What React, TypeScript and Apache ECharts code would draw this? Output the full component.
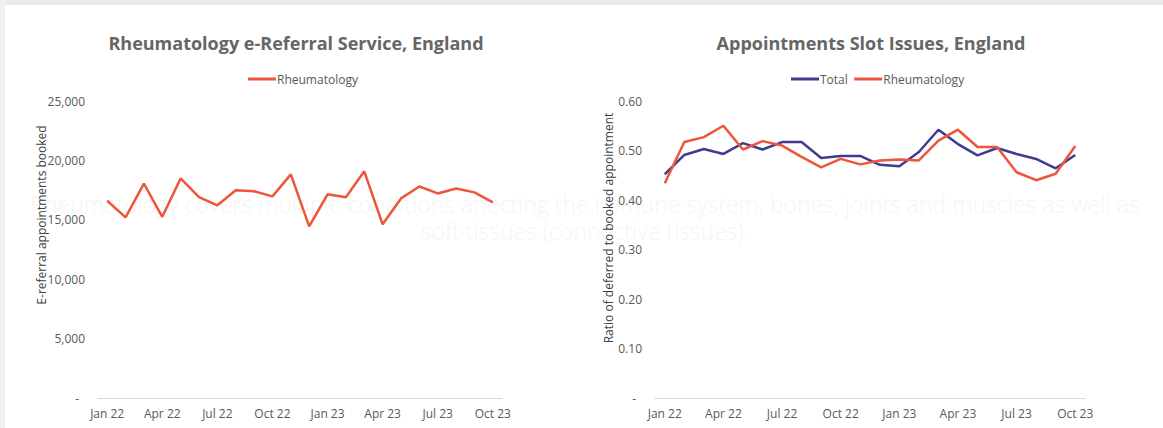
import React, { useEffect, useRef } from "react";
import * as echarts from "echarts";

const months = [
  "Jan 22", "Feb 22", "Mar 22", "Apr 22", "May 22", "Jun 22", "Jul 22", "Aug 22", "Sep 22", "Oct 22", "Nov 22", "Dec 22",
  "Jan 23", "Feb 23", "Mar 23", "Apr 23", "May 23", "Jun 23", "Jul 23", "Aug 23", "Sep 23", "Oct 23",
];

const referrals = [
  16600, 15200, 18050, 15250, 18480, 16900, 16220, 17480, 17400, 16970, 18820,
  14450, 17150, 16900, 19080, 14620, 16800, 17800, 17220, 17640, 17310, 16470,
];

const ratioTotal = [
  0.452, 0.491, 0.503, 0.493, 0.515, 0.502, 0.517, 0.517, 0.485, 0.489, 0.489,
  0.471, 0.468, 0.497, 0.542, 0.513, 0.49, 0.505, 0.493, 0.483, 0.464, 0.491,
];

const ratioRheum = [
  0.434, 0.517, 0.527, 0.55, 0.502, 0.519, 0.51, 0.487, 0.466, 0.483, 0.472,
  0.48, 0.482, 0.48, 0.52, 0.542, 0.507, 0.507, 0.456, 0.44, 0.453, 0.509,
];

const titleLeft = "Rheumatology e-Referral Service, England";
const titleRight = "Appointments Slot Issues, England";
const yNameLeft = "E-referral appointments booked";
const yNameRight = "Ratio of deferred to booked appointment";
const overlayLines = [
  "Rheumatology covers multiple conditions affecting the immune system, bones, joints and muscles as well as",
  "soft tissues (connective tissues).",
];

const ORANGE = "#EE553A";
const BLUE = "#3F3B8E";
const LABEL = "#595959";
const FONT = "'Open Sans', sans-serif";
const STRETCH = "semi-condensed";

export default function App() {
  const ref = useRef<HTMLDivElement>(null);

  useEffect(() => {
    if (!ref.current) return;
    const chart = echarts.init(ref.current, undefined, { renderer: "svg" });

    const lbl = { color: LABEL, fontFamily: FONT, fontSize: 12, fontStyle: STRETCH };
    const rich = { a: { ...lbl }, z: { ...lbl, padding: [0, 6, 0, 0] } };

    const xAxisBase = (gridIndex: number) => ({
      type: "category" as const,
      gridIndex,
      data: months,
      boundaryGap: true,
      axisLine: { lineStyle: { color: "#d9d9d9", width: 1 } },
      axisTick: { interval: 2, length: 5, lineStyle: { color: "#d9d9d9" } },
      axisLabel: { ...lbl, interval: 2, margin: 9, formatter: (v: string) => "{a|" + v + "}", rich },
      splitLine: { show: false },
    });

    chart.setOption({
      animation: false,
      backgroundColor: "#ffffff",
      graphic: [
        { type: "rect", z: 0, shape: { x: 0, y: 0, width: 1163, height: 5 }, style: { fill: "#ebebeb" } },
        { type: "rect", z: 0, shape: { x: 0, y: 0, width: 5, height: 428 }, style: { fill: "#f0f0f0" } },
        {
          type: "text", z: 0, x: 585, y: 204,
          style: { text: overlayLines[0], font: "300 23px 'Open Sans', sans-serif", fill: "#f5f5f5", align: "center", verticalAlign: "middle" },
        },
        {
          type: "text", z: 0, x: 585, y: 231,
          style: { text: overlayLines[1], font: "300 23px 'Open Sans', sans-serif", fill: "#f5f5f5", align: "center", verticalAlign: "middle" },
        },
        {
          type: "text", z: 10, x: 296, y: 43,
          style: { text: titleLeft, font: "bold 18px 'Open Sans', sans-serif", fill: "#666666", align: "center", verticalAlign: "middle" },
        },
        {
          type: "text", z: 10, x: 871, y: 43,
          style: { text: titleRight, font: "bold 18px 'Open Sans', sans-serif", fill: "#666666", align: "center", verticalAlign: "middle" },
        },
        {
          type: "text", z: 10, x: 41, y: 215, rotation: Math.PI / 2,
          style: { text: yNameLeft, font: "12px 'Open Sans', sans-serif", fill: "#404040", align: "center", verticalAlign: "middle" },
        },
        {
          type: "text", z: 10, x: 608, y: 228, rotation: Math.PI / 2,
          style: { text: yNameRight, font: "12px 'Open Sans', sans-serif", fill: "#404040", align: "center", verticalAlign: "middle" },
        },
      ],
      legend: [
        {
          left: 243, top: 68,
          itemWidth: 28, itemHeight: 3, icon: "rect", itemGap: 10,
          formatter: (n: string) => "{a|" + n + "}",
          textStyle: { ...lbl, padding: [0, 0, 0, -4], rich },
          data: [{ name: "Rheumatology", itemStyle: { color: ORANGE } }],
        },
        {
          left: 786, top: 68,
          itemWidth: 28, itemHeight: 3, icon: "rect", itemGap: 14,
          formatter: (n: string) => "{a|" + n + "}",
          textStyle: { ...lbl, padding: [0, 0, 0, -4], rich },
          data: [
            { name: "Total", itemStyle: { color: BLUE } },
            { name: "Rheumatology ", itemStyle: { color: ORANGE } },
          ],
        },
      ],
      grid: [
        { left: 98, right: 661, top: 101, bottom: 30 },
        { left: 655, right: 78, top: 101, bottom: 30 },
      ],
      xAxis: [xAxisBase(0), xAxisBase(1)],
      yAxis: [
        {
          type: "value", gridIndex: 0, min: 0, max: 25000, interval: 5000,
          axisLine: { show: false }, axisTick: { show: false }, splitLine: { show: false },
          axisLabel: {
            ...lbl, margin: 13,
            formatter: (v: number) => (v === 0 ? "{z|-}" : "{a|" + v.toLocaleString("en-GB") + "}"),
            rich,
          },
        },
        {
          type: "value", gridIndex: 1, min: 0, max: 0.6, interval: 0.1,
          axisLine: { show: false }, axisTick: { show: false }, splitLine: { show: false },
          axisLabel: {
            ...lbl, margin: 13,
            formatter: (v: number) => (v === 0 ? "{z|-}" : "{a|" + v.toFixed(2) + "}"),
            rich,
          },
        },
      ],
      series: [
        {
          name: "Rheumatology", type: "line", xAxisIndex: 0, yAxisIndex: 0,
          data: referrals, showSymbol: false, symbol: "none",
          lineStyle: { color: ORANGE, width: 2.5 }, itemStyle: { color: ORANGE }, z: 5,
        },
        {
          name: "Total", type: "line", xAxisIndex: 1, yAxisIndex: 1,
          data: ratioTotal, showSymbol: false, symbol: "none",
          lineStyle: { color: BLUE, width: 2.5 }, itemStyle: { color: BLUE }, z: 5,
        },
        {
          name: "Rheumatology ", type: "line", xAxisIndex: 1, yAxisIndex: 1,
          data: ratioRheum, showSymbol: false, symbol: "none",
          lineStyle: { color: ORANGE, width: 2.5 }, itemStyle: { color: ORANGE }, z: 6,
        },
      ],
    });

    return () => chart.dispose();
  }, []);

  return (
    <div
      ref={ref}
      style={{ position: "fixed", left: 0, top: 0, width: 1163, height: 428 }}
    />
  );
}
